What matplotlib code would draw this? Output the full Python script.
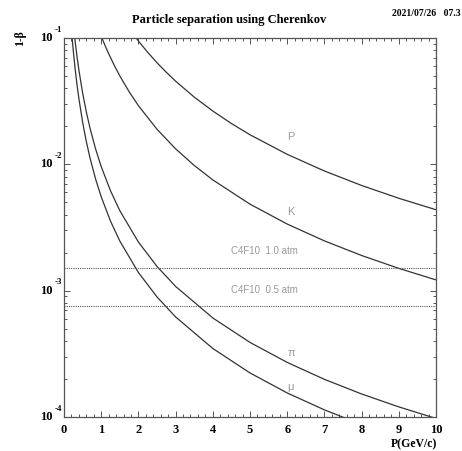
import matplotlib
matplotlib.use("Agg")
import matplotlib.pyplot as plt
from matplotlib.ticker import MultipleLocator, LogLocator, NullFormatter

# ---- data ----
p_proton = [1.93, 2.0, 2.25, 2.5, 2.75, 3.0, 3.5, 4.0, 4.5, 5.0, 6.0, 7.0, 8.0, 9.0, 10.0]
b_proton = [0.1006, 0.09463, 0.07699, 0.06373, 0.05354, 0.04556, 0.03408, 0.02641,
            0.02104, 0.01714, 0.01200, 0.008858, 0.006803, 0.005387, 0.004370]

p_kaon = [1.0, 1.1, 1.2, 1.35, 1.5, 1.75, 2.0, 2.5, 3.0, 3.5, 4.0, 5.0, 6.0, 7.0, 8.0, 9.0, 10.0]
b_kaon = [0.10332, 0.08768, 0.07521, 0.06083, 0.05013, 0.03757, 0.02914, 0.01895, 0.013272,
          0.009803, 0.007531, 0.004839, 0.003368, 0.002478, 0.0018988, 0.0015012, 0.0012165]

p_pion = [0.28, 0.3, 0.35, 0.4, 0.5, 0.6, 0.7, 0.85, 1.0, 1.25, 1.5, 2.0, 2.5, 3.0, 4.0, 5.0,
          6.0, 7.0, 8.0, 9.0, 10.0]
b_pion = [0.10502, 0.09332, 0.07113, 0.05583, 0.03682, 0.026005, 0.019304, 0.013214, 0.0096,
          0.006176, 0.004301, 0.002426, 0.0015548, 0.0010805, 0.0006082, 0.00038937,
          0.00027045, 0.00019872, 0.00015215, 0.00012023, 0.00009739]

p_muon = [0.21, 0.22, 0.25, 0.3, 0.35, 0.4, 0.5, 0.6, 0.7, 0.85, 1.0, 1.25, 1.5, 2.0, 2.5,
          3.0, 4.0, 5.0, 6.0, 7.0, 8.0]
b_muon = [0.1067, 0.09857, 0.07889, 0.05679, 0.04267, 0.03316, 0.021607, 0.015154, 0.011201,
          0.0076376, 0.0055356, 0.0035534, 0.0024717, 0.0013926, 0.00089193, 0.00061965,
          0.00034869, 0.0002232, 0.00015502, 0.0001139, 0.00008721]

thresholds = [1.5e-3, 7.5e-4]
threshold_labels = ["C4F10  1.0 atm", "C4F10  0.5 atm"]
label_y = [1.88e-3, 9.2e-4]

curve_labels = ["P", "K", "\u03c0", "\u03bc"]
curve_label_x = [6.0, 6.0, 6.0, 6.0]
curve_label_y = [1.64e-2, 4.2e-3, 3.2e-4, 1.72e-4]

xticks = list(range(0, 11))
ydecades = [-1, -2, -3, -4]

title = "Particle separation using Cherenkov"
date_text = "2021/07/26   07.3"

# ---- drawing ----
W, H = 462, 451
fig = plt.figure(figsize=(W / 100, H / 100), dpi=100)
ax = fig.add_axes([64 / W, 1 - 417 / H, (436 - 64) / W, (417 - 38) / H])

lc = "#333333"
for px, py in [(p_proton, b_proton), (p_kaon, b_kaon), (p_pion, b_pion), (p_muon, b_muon)]:
    ax.plot(px, py, color=lc, lw=0.9, solid_capstyle="butt")

for t in thresholds:
    ax.plot([0, 10], [t, t], color="#555555", lw=0.8, linestyle=(0, (1, 1)))

sans = "Liberation Sans"
serif = "Liberation Serif"
for txt, yy in zip(threshold_labels, label_y):
    ax.text(4.5, yy, txt, color="#9a9a9a", fontsize=7, family=sans, ha="left", va="bottom")
for txt, xx, yy in zip(curve_labels, curve_label_x, curve_label_y):
    ax.text(xx, yy, txt, color="#9a9a9a", fontsize=8, family=sans, ha="left", va="center")

ax.set_yscale("log")
ax.set_xlim(0, 10)
ax.set_ylim(1e-4, 1e-1)

ax.xaxis.set_major_locator(MultipleLocator(1))
ax.xaxis.set_minor_locator(MultipleLocator(0.2))
ax.yaxis.set_major_locator(LogLocator(base=10, numticks=10))
ax.yaxis.set_minor_locator(LogLocator(base=10, subs=range(2, 10), numticks=20))
ax.yaxis.set_major_formatter(NullFormatter())
ax.yaxis.set_minor_formatter(NullFormatter())
ax.tick_params(which="both", direction="in", top=True, right=True, color="#555555", width=0.7)
ax.tick_params(which="major", length=4)
ax.tick_params(which="minor", length=2)
ax.tick_params(axis="x", which="major", pad=5)
ax.set_xticks(xticks)
ax.set_xticklabels([str(v) for v in xticks], fontsize=9, family=serif, fontweight="bold")
for s in ax.spines.values():
    s.set_color("#555555")
    s.set_linewidth(0.9)

# y tick labels in PAW style: "10" with raised exponent
for d in ydecades:
    yy = 10.0 ** d
    ax.annotate("10", xy=(0, yy), xycoords=("axes fraction", "data"), xytext=(-8, 0),
                textcoords="offset points", ha="right", va="center", fontsize=9,
                family=serif, fontweight="bold")
    ax.annotate(str(d), xy=(0, yy), xycoords=("axes fraction", "data"), xytext=(-6.5, 6),
                textcoords="offset points", ha="left", va="center", fontsize=6.5,
                family=serif, fontweight="bold")

fig.text(229 / W, 1 - 20 / H, title, ha="center", va="center", fontsize=9,
         family=serif, fontweight="bold")
fig.text(392 / W, 1 - 13 / H, date_text, ha="left", va="center", fontsize=7,
         family=serif, fontweight="bold")
fig.text(437 / W, 1 - 444 / H, "P(GeV/c)", ha="right", va="center", fontsize=8.5,
         family=serif, fontweight="bold")
fig.text(20 / W, 1 - 38 / H, "1-\u03b2", ha="center", va="center", fontsize=8.5,
         family=serif, fontweight="bold", rotation=90)

fig.savefig("out.png", dpi=100)
